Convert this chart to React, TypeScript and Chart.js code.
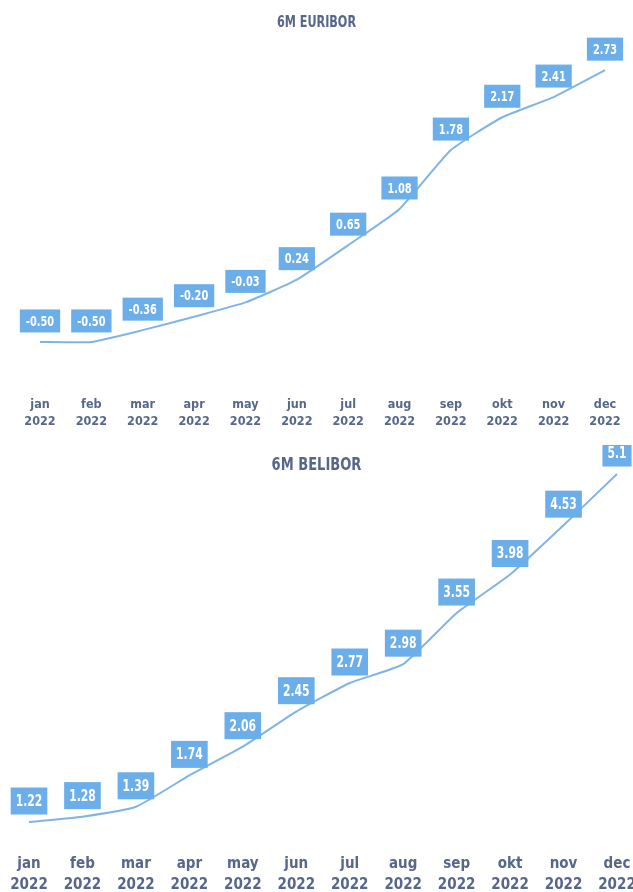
import React, { useEffect, useRef } from "react";
import { Chart, registerables } from "chart.js";

Chart.register(...registerables);

const months = ["jan", "feb", "mar", "apr", "may", "jun", "jul", "aug", "sep", "okt", "nov", "dec"];
const yearLabel = "2022";
const euriborValues = [-0.5, -0.5, -0.36, -0.2, -0.03, 0.24, 0.65, 1.08, 1.78, 2.17, 2.41, 2.73];
const euriborLabels = ["-0.50", "-0.50", "-0.36", "-0.20", "-0.03", "0.24", "0.65", "1.08", "1.78", "2.17", "2.41", "2.73"];
const beliborValues = [1.22, 1.28, 1.39, 1.74, 2.06, 2.45, 2.77, 2.98, 3.55, 3.98, 4.53, 5.1];
const beliborLabels = ["1.22", "1.28", "1.39", "1.74", "2.06", "2.45", "2.77", "2.98", "3.55", "3.98", "4.53", "5.1"];

const FONT = "'DejaVu Sans Condensed', 'DejaVu Sans', sans-serif";
const TEXT_COLOR = "#57668b";
const LINE_COLOR = "#80b4e4";
const BOX_COLOR = "#6baeea";

type Cfg = {
  values: number[];
  labels: string[];
  width: number;
  height: number;
  padding: { top: number; left: number; right: number; bottom: number };
  min: number;
  max: number;
  tickFont: number;
  tickLineHeight: number;
  tickPad: number;
  boxFont: number;
  boxScale: number;
  boxH: number;
  boxPadX: number;
  boxOffset: number;
};

function LineChart({ cfg }: { cfg: Cfg }) {
  const ref = useRef<HTMLCanvasElement | null>(null);
  useEffect(() => {
    if (!ref.current) return;
    const labelPlugin = {
      id: "boxLabels",
      afterDatasetsDraw(chart: any) {
        const ctx = chart.ctx;
        const meta = chart.getDatasetMeta(0);
        ctx.save();
        ctx.font = `bold ${cfg.boxFont}px ${FONT}`;
        ctx.textAlign = "center";
        ctx.textBaseline = "middle";
        meta.data.forEach((pt: any, i: number) => {
          const txt = cfg.labels[i];
          const tw = ctx.measureText(txt).width * cfg.boxScale;
          const w = tw + cfg.boxPadX * 2;
          const cx = pt.x;
          const cy = pt.y - cfg.boxOffset;
          ctx.fillStyle = BOX_COLOR;
          ctx.fillRect(cx - w / 2, cy - cfg.boxH / 2, w, cfg.boxH);
          ctx.save();
          ctx.translate(cx, cy + 1);
          ctx.scale(cfg.boxScale, 1);
          ctx.fillStyle = "#ffffff";
          ctx.fillText(txt, 0, 0);
          ctx.restore();
        });
        ctx.restore();
      },
    };
    const chart = new Chart(ref.current, {
      type: "line",
      data: {
        labels: months.map((m) => [m, yearLabel]),
        datasets: [
          {
            data: cfg.values,
            borderColor: LINE_COLOR,
            borderWidth: 2,
            pointRadius: 0,
            tension: 0.15,
            fill: false,
          },
        ],
      },
      options: {
        responsive: false,
        animation: false,
        layout: { padding: cfg.padding },
        plugins: { legend: { display: false }, tooltip: { enabled: false }, title: { display: false } },
        scales: {
          x: {
            offset: false,
            grid: { display: false, drawTicks: false },
            border: { display: false },
            afterFit(scale: any) {
              scale.paddingLeft = 0;
              scale.paddingRight = 0;
            },
            ticks: {
              color: TEXT_COLOR,
              padding: cfg.tickPad,
              maxRotation: 0,
              autoSkip: false,
              font: { family: FONT, size: cfg.tickFont, weight: "bold", lineHeight: cfg.tickLineHeight },
            },
          },
          y: { display: false, min: cfg.min, max: cfg.max },
        },
      },
      plugins: [labelPlugin],
    });
    return () => chart.destroy();
  }, []);
  return <canvas ref={ref} width={cfg.width} height={cfg.height} style={{ display: "block" }} />;
}

const topCfg: Cfg = {
  values: euriborValues,
  labels: euriborLabels,
  width: 633,
  height: 445,
  padding: { top: 30, left: 40, right: 28, bottom: 11 },
  min: -1.095,
  max: 3.207,
  tickFont: 12.5,
  tickLineHeight: 1.36,
  tickPad: 4,
  boxFont: 14,
  boxScale: 0.78,
  boxH: 23,
  boxPadX: 6,
  boxOffset: 21,
};

const bottomCfg: Cfg = {
  values: beliborValues,
  labels: beliborLabels,
  width: 633,
  height: 458,
  padding: { top: 5, left: 29, right: 16, bottom: 3 },
  min: 0.908,
  max: 5.368,
  tickFont: 15,
  tickLineHeight: 1.4,
  tickPad: 4,
  boxFont: 15,
  boxScale: 0.8,
  boxH: 27,
  boxPadX: 5,
  boxOffset: 21,
};

export default function App() {
  const titleStyle: React.CSSProperties = {
    position: "absolute",
    left: 0,
    width: 633,
    textAlign: "center",
    fontFamily: FONT,
    fontWeight: "bold",
    color: TEXT_COLOR,
    lineHeight: 1,
    transform: "scaleX(0.83)",
    transformOrigin: "50% 50%",
  };
  return (
    <div style={{ position: "absolute", top: 0, left: 0, width: 633, height: 892, overflow: "hidden", background: "#fff" }}>
      <div style={{ position: "absolute", top: 0, left: 0 }}>
        <LineChart cfg={topCfg} />
      </div>
      <div style={{ position: "absolute", top: 445, left: 0 }}>
        <LineChart cfg={bottomCfg} />
      </div>
      <div style={{ ...titleStyle, top: 15, fontSize: 15 }}>6M EURIBOR</div>
      <div style={{ ...titleStyle, top: 456, fontSize: 17.5 }}>6M BELIBOR</div>
    </div>
  );
}
